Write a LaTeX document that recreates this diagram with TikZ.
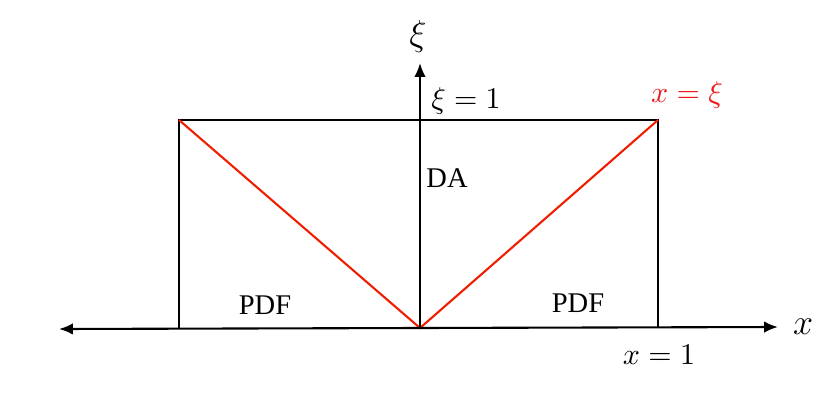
\documentclass[tikz,border=0pt]{standalone}
\usepackage{fontspec}
\newfontfamily\timesf{Liberation Serif}
\usetikzlibrary{arrows.meta}
\definecolor{redl}{RGB}{240,30,0}
\definecolor{redt}{RGB}{235,25,25}
\tikzset{
  axis/.style={line width=0.7pt,-{Latex[length=4.6pt,width=3.8pt]}},
  box/.style={line width=0.4pt},
  diag/.style={line width=0.7pt,draw=redl},
  mlab/.style={inner sep=0pt,font=\fontsize{10}{12}\selectfont},
  tlab/.style={inner sep=0pt,font=\fontsize{9.5}{11}\selectfont\timesf},
}
\begin{document}
\begin{tikzpicture}[x=0.3333pt,y=-0.3333pt]
\useasboundingbox (0,0) rectangle (830,415);
\coordinate (O) at (420,328);
\coordinate (L) at (59,329);
\coordinate (R) at (778,327);
\coordinate (T) at (420,63);
\coordinate (TL) at (179,120);
\coordinate (TR) at (658,120);
\coordinate (BL) at (179,328.5);
\coordinate (BR) at (658,327.5);
% box
\draw[box] (BL) -- (TL) -- (TR) -- (BR);
% diagonals
\draw[diag] (TL) -- (O) -- (TR);
% axes
\draw[axis] (O) -- (L);
\draw[axis] (O) -- (R);
\draw[axis] (O) -- (T);
% labels
\node[mlab,font=\fontsize{11.5}{13}\selectfont] (xi) at (418,37) {$\xi$};
\node[mlab] (xi1) at (466,101) {$\xi=1$};
\node[mlab,text=redt] (xxi) at (687,95) {$x=\xi$};
\node[mlab,font=\fontsize{11.5}{13}\selectfont] (xl) at (803,327) {$x$};
\node[mlab] (x1) at (659,355) {$x=1$};
\node[tlab] (pdf1) at (265,305) {PDF};
\node[tlab] (pdf2) at (578,303) {PDF};
\node[tlab] (da) at (447,178) {DA};
\end{tikzpicture}
\end{document}
